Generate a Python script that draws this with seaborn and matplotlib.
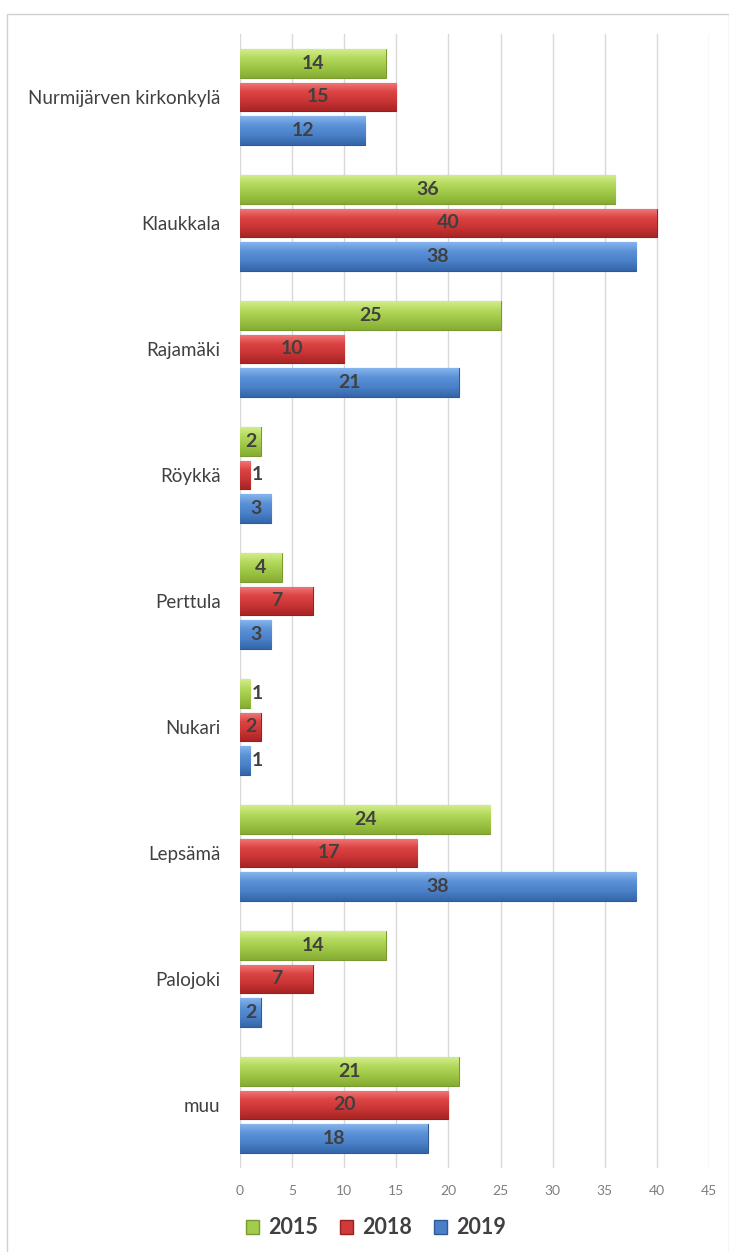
import matplotlib
matplotlib.use("Agg")
import matplotlib.pyplot as plt
from matplotlib.patches import Rectangle, Patch
from matplotlib.colors import LinearSegmentedColormap
import seaborn as sns
import pandas as pd
import numpy as np

# Data
areas = ["Nurmijärven kirkonkylä", "Klaukkala", "Rajamäki", "Röykkä", "Perttula",
         "Nukari", "Lepsämä", "Palojoki", "muu"]
years = ["2015", "2018", "2019"]
v2015 = [14, 36, 25, 2, 4, 1, 24, 14, 21]
v2018 = [15, 40, 10, 1, 7, 2, 17, 7, 20]
v2019 = [12, 38, 21, 3, 3, 1, 38, 2, 18]

colors = {"2015": "#a3cb4c", "2018": "#d03a3a", "2019": "#4a80c8"}
edges = {"2015": "#7a9a30", "2018": "#952222", "2019": "#2f5a95"}
# light -> dark shades for the bevel look
shades = {
    "2015": ["#d2ec8a", "#b2d85a", "#9cc444", "#86ad33"],
    "2018": ["#f07a7a", "#dc4444", "#c93434", "#a82424"],
    "2019": ["#86b4ec", "#5a90d6", "#4a80c8", "#3466a8"],
}

df = pd.DataFrame({
    "area": areas * 3,
    "year": [y for y in years for _ in areas],
    "value": v2015 + v2018 + v2019,
})

sns.set_theme(style="white")
plt.rcParams["font.family"] = ["Lato", "DejaVu Sans"]

fig = plt.figure(figsize=(7.29, 12.52), dpi=100)
ax = fig.add_axes([240 / 729, 1 - 1168 / 1252, 469 / 729, 1134 / 1252])

sns.barplot(data=df, y="area", x="value", hue="year", order=areas, hue_order=years,
            palette=colors, orient="h", gap=0.15, width=0.8, ax=ax, legend=False,
            saturation=1)

grad = np.linspace(0, 1, 64).reshape(-1, 1)
for cont, yr in zip(ax.containers, years):
    cmap = LinearSegmentedColormap.from_list(yr, shades[yr])
    for p in cont:
        p.set_edgecolor(edges[yr])
        p.set_linewidth(0.8)
        x0, y0 = p.get_x(), p.get_y()
        w, h = p.get_width(), p.get_height()
        # y axis is inverted: y0 is the top edge on screen
        im = ax.imshow(grad, cmap=cmap, aspect="auto", extent=(x0, x0 + w, y0 + h, y0),
                       origin="upper", zorder=p.get_zorder(), interpolation="bilinear")
        im.set_clip_path(p)
        yc = y0 + h / 2
        if w <= 1:
            ax.text(w + 0.15, yc, f"{w:.0f}", ha="left", va="center", zorder=5,
                    fontsize=14, fontweight="bold", color="#404040")
        else:
            ax.text(w / 2, yc, f"{w:.0f}", ha="center", va="center", zorder=5,
                    fontsize=14, fontweight="bold", color="#404040")

ax.set_xlim(0, 45)
ax.set_ylim(len(areas) - 0.5, -0.5)
ax.set_xticks(range(0, 46, 5))
ax.grid(axis="x", color="#d9d9d9", linewidth=1)
ax.set_axisbelow(True)
for s in ax.spines.values():
    s.set_visible(False)
ax.tick_params(axis="x", labelsize=10, labelcolor="#7f7f7f", pad=12, length=0)
ax.tick_params(axis="y", labelsize=13.5, labelcolor="#404040", pad=14, length=0)
ax.set_xlabel("")
ax.set_ylabel("")

# outer chart frame
fig.patches.append(Rectangle((7 / 729, -0.01), 0.99, 1 - 14 / 1252 + 0.01,
                             transform=fig.transFigure, fill=False,
                             edgecolor="#d0d0d0", linewidth=1))

handles = [Patch(facecolor=colors[y], edgecolor=edges[y], label=y) for y in years]
fig.legend(handles=handles, loc="center", bbox_to_anchor=(376 / 729, 1 - 1228 / 1252),
           ncol=3, frameon=False, handlelength=0.6, handleheight=0.6,
           handletextpad=0.45, columnspacing=1.0,
           prop={"size": 15.5, "weight": "bold"}, labelcolor="#404040")

fig.savefig("out.png", dpi=100)
